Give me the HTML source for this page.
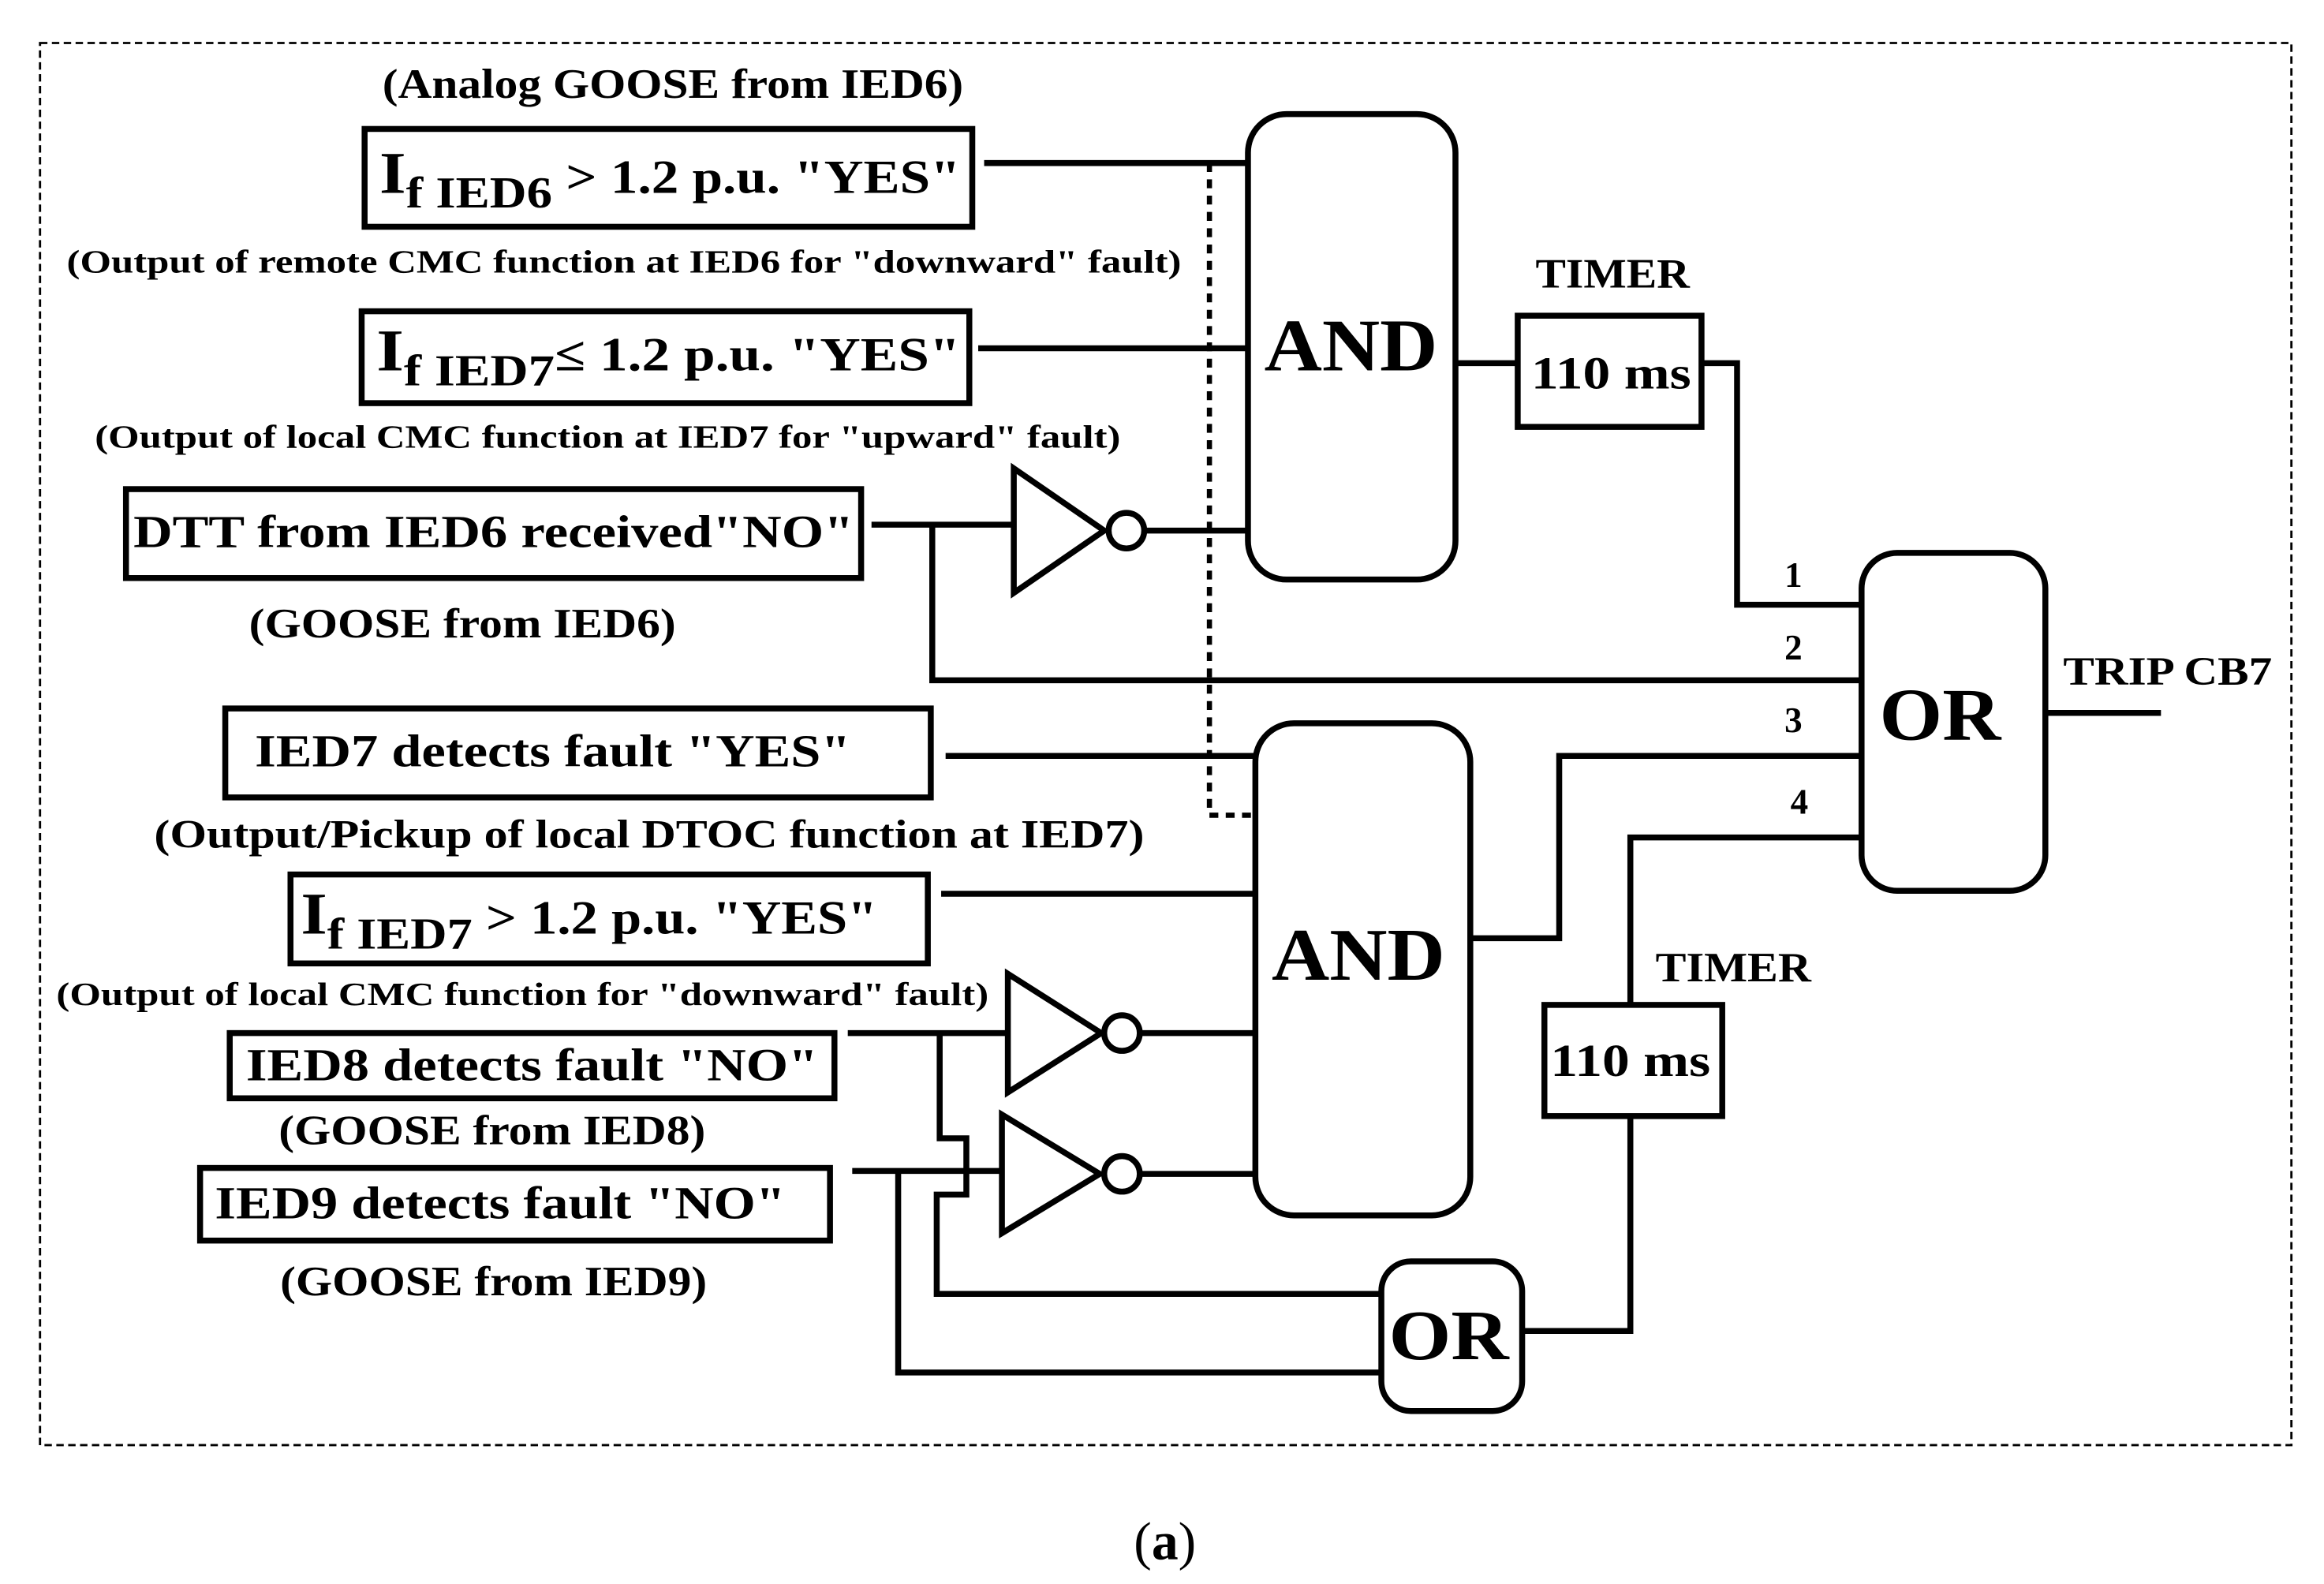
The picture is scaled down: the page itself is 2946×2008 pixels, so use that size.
<!DOCTYPE html>
<html><head><meta charset="utf-8"><style>
html,body{margin:0;padding:0;background:#fff;}
svg{display:block;}
text{font-family:"Liberation Serif",serif;font-weight:bold;fill:#000;}
</style></head><body>
<svg width="2946" height="2008" viewBox="0 0 1568 1068.7" preserveAspectRatio="none" xmlns="http://www.w3.org/2000/svg">
<rect x="27" y="29" width="1519" height="946" fill="none" stroke="#000" stroke-width="1.5" stroke-dasharray="5,3"/>
<g fill="none" stroke="#000" stroke-width="4">
<rect x="246" y="87" width="410" height="66"/>
<rect x="244" y="210" width="410" height="62"/>
<rect x="85" y="330" width="496" height="60"/>
<rect x="152" y="478" width="476" height="60"/>
<rect x="196" y="590" width="430" height="60"/>
<rect x="155" y="697" width="408" height="44"/>
<rect x="135" y="788" width="425" height="49"/>
<rect x="842" y="77" width="140" height="314" rx="26"/>
<rect x="847" y="488" width="145" height="332" rx="26"/>
<rect x="1024" y="213" width="124" height="75"/>
<rect x="1042" y="678" width="120" height="75"/>
<rect x="1256" y="373" width="124" height="228" rx="24"/>
<rect x="932" y="851" width="95" height="101" rx="20"/>
<path d="M664 110H842M660 235H842M588 354H684M772 358H842"/>
<path d="M684 316V400L745 358Z"/><circle cx="760" cy="358" r="12"/>
<path d="M629 354V459H1256"/>
<path d="M638 510H847M635 603H847"/>
<path d="M982 245H1024M1148 245H1172V408H1256"/>
<path d="M992 633H1052V510H1256"/>
<path d="M1100 678V565H1256M1100 753V898H1027"/>
<path d="M572 697H680M769 697H847"/>
<path d="M680 657V737L743 697Z"/><circle cx="757" cy="697" r="12"/>
<path d="M575 790H676M769 792H847"/>
<path d="M676 752V832L742 792Z"/><circle cx="757" cy="792" r="12"/>
<path d="M634 697V768H652V806H632V873H932"/>
<path d="M606 790V926H932"/>
<path d="M1380 481H1458"/>
</g>
<path d="M816 110V550H847" fill="none" stroke="#000" stroke-width="3.5" stroke-dasharray="6,5"/>
<g lengthAdjust="spacingAndGlyphs">
<text x="258" y="66" font-size="28" textLength="392" lengthAdjust="spacingAndGlyphs">(Analog GOOSE from IED6)</text>
<text x="256" y="130" font-size="40" textLength="392" lengthAdjust="spacingAndGlyphs">I<tspan font-size="30" dy="10">f IED6</tspan><tspan font-size="32" dy="-10"> &gt; 1.2 p.u. "YES"</tspan></text>
<text x="45" y="184" font-size="22" textLength="752" lengthAdjust="spacingAndGlyphs">(Output of remote CMC function at IED6 for "downward" fault)</text>
<text x="254" y="250" font-size="40" textLength="394" lengthAdjust="spacingAndGlyphs">I<tspan font-size="30" dy="10">f IED7</tspan><tspan font-size="32" dy="-10">≤ 1.2 p.u. "YES"</tspan></text>
<text x="64" y="302" font-size="22" textLength="692" lengthAdjust="spacingAndGlyphs">(Output of local CMC function at IED7 for "upward" fault)</text>
<text x="90" y="369" font-size="31" textLength="486" lengthAdjust="spacingAndGlyphs">DTT from IED6 received"NO"</text>
<text x="168" y="430" font-size="28" textLength="288" lengthAdjust="spacingAndGlyphs">(GOOSE from IED6)</text>
<text x="172" y="517" font-size="31" textLength="402" lengthAdjust="spacingAndGlyphs">IED7 detects fault "YES"</text>
<text x="104" y="572" font-size="27" textLength="668" lengthAdjust="spacingAndGlyphs">(Output/Pickup of local DTOC function at IED7)</text>
<text x="203" y="630" font-size="40" textLength="389" lengthAdjust="spacingAndGlyphs">I<tspan font-size="30" dy="10">f IED7</tspan><tspan font-size="32" dy="-10"> &gt; 1.2 p.u. "YES"</tspan></text>
<text x="38" y="678" font-size="22" textLength="629" lengthAdjust="spacingAndGlyphs">(Output of local CMC function for "downward" fault)</text>
<text x="166" y="729" font-size="31" textLength="386" lengthAdjust="spacingAndGlyphs">IED8 detects fault "NO"</text>
<text x="188" y="772" font-size="28" textLength="288" lengthAdjust="spacingAndGlyphs">(GOOSE from IED8)</text>
<text x="145" y="822" font-size="31" textLength="385" lengthAdjust="spacingAndGlyphs">IED9 detects fault "NO"</text>
<text x="189" y="874" font-size="28" textLength="288" lengthAdjust="spacingAndGlyphs">(GOOSE from IED9)</text>
<text x="853" y="250" font-size="50" textLength="117" lengthAdjust="spacingAndGlyphs">AND</text>
<text x="858" y="661" font-size="50" textLength="117" lengthAdjust="spacingAndGlyphs">AND</text>
<text x="1036" y="194" font-size="28" textLength="104" lengthAdjust="spacingAndGlyphs">TIMER</text>
<text x="1033" y="262" font-size="31" textLength="108" lengthAdjust="spacingAndGlyphs">110 ms</text>
<text x="1117" y="662" font-size="28" textLength="105" lengthAdjust="spacingAndGlyphs">TIMER</text>
<text x="1046" y="726" font-size="31" textLength="108" lengthAdjust="spacingAndGlyphs">110 ms</text>
<text x="1268" y="499" font-size="50" textLength="82" lengthAdjust="spacingAndGlyphs">OR</text>
<text x="937" y="917" font-size="48" textLength="81" lengthAdjust="spacingAndGlyphs">OR</text>
<text x="1210" y="396" font-size="24" text-anchor="middle">1</text>
<text x="1210" y="445" font-size="24" text-anchor="middle">2</text>
<text x="1210" y="494" font-size="24" text-anchor="middle">3</text>
<text x="1214" y="549" font-size="24" text-anchor="middle">4</text>
<text x="1392" y="462" font-size="27" textLength="141" lengthAdjust="spacingAndGlyphs">TRIP CB7</text>
</g>
<text x="786" y="1052" font-size="36" text-anchor="middle" style="font-weight:normal">(<tspan font-weight="bold">a</tspan>)</text>
</svg>
</body></html>
